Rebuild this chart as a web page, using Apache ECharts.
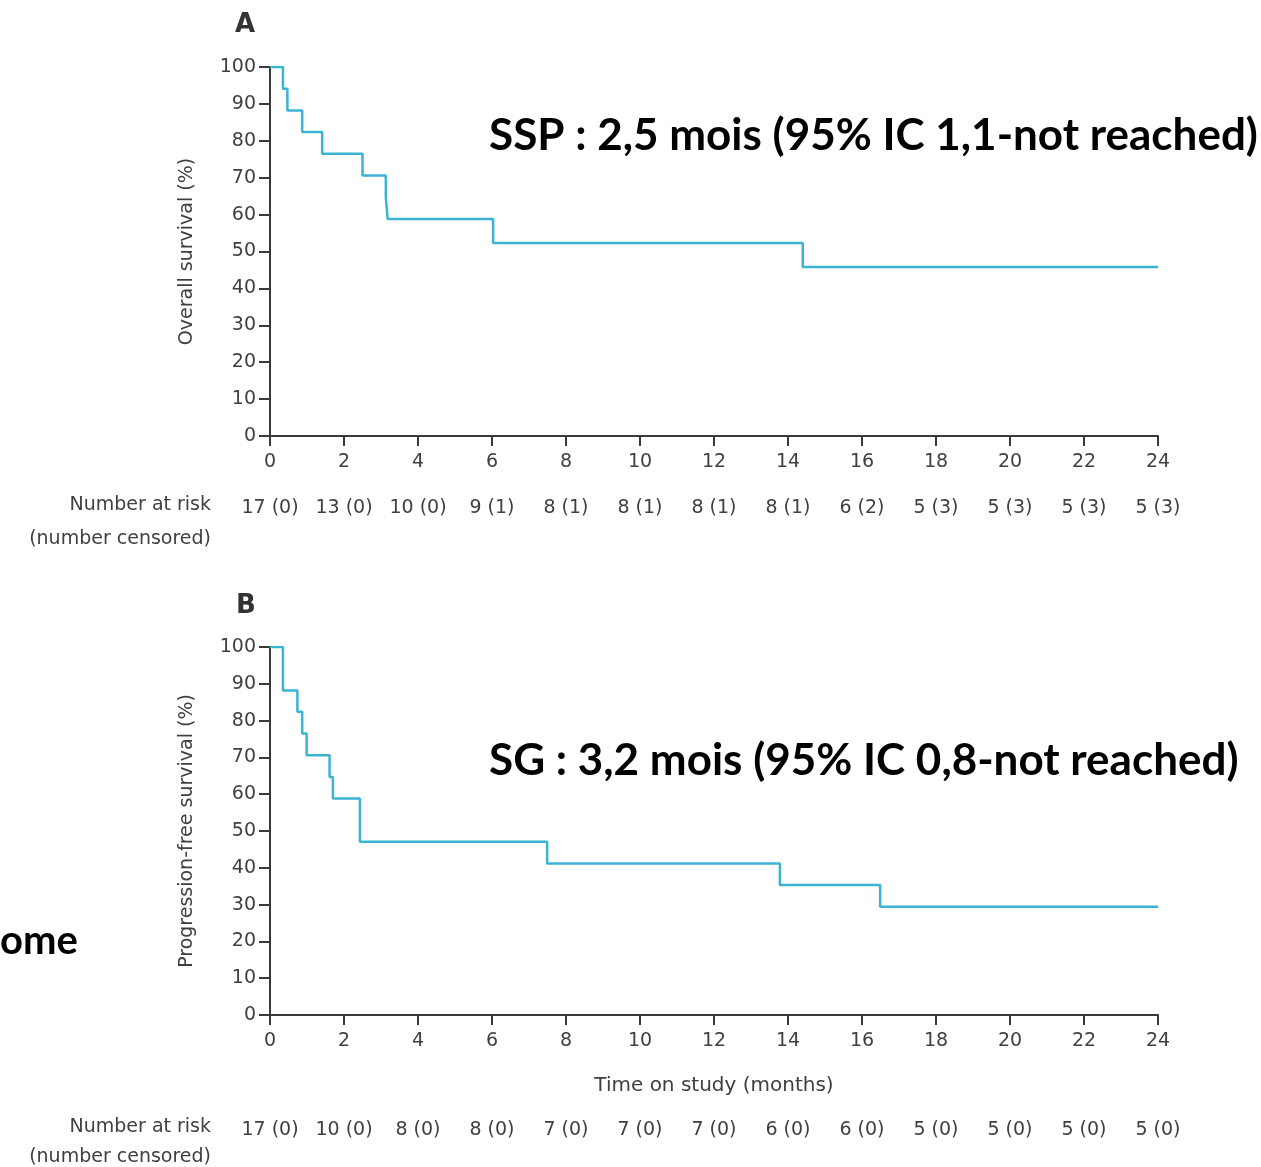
<!DOCTYPE html>
<html>
<head>
<meta charset="utf-8">
<script src="https://cdn.jsdelivr.net/npm/echarts@6/dist/echarts.min.js"></script>
<style>
  html, body { margin: 0; padding: 0; background: #fff; }
  #chart { width: 1261px; height: 1167px; }
</style>
</head>
<body>
<div id="chart"></div>
<script>
// Kaplan–Meier step points: [time in months, survival %]
const osTimes = [0, 0.35, 0.47, 0.87, 1.41, 2.5, 3.13, 3.18, 6.03, 14.4, 24];
const osValues = [100, 94.1, 88.2, 82.4, 76.5, 70.6, 64.7, 58.8, 52.3, 45.8, 45.8];

const pfsTimes = [0, 0.35, 0.74, 0.87, 0.99, 1.61, 1.70, 2.43, 7.49, 13.78, 16.49, 24];
const pfsValues = [100, 88.2, 82.4, 76.5, 70.6, 64.7, 58.8, 47.1, 41.2, 35.3, 29.4, 29.4];

// Number at risk (number censored), every 2 months from 0 to 24
const riskTicks = [0, 2, 4, 6, 8, 10, 12, 14, 16, 18, 20, 22, 24];
const osRisk = ['17 (0)', '13 (0)', '10 (0)', '9 (1)', '8 (1)', '8 (1)', '8 (1)', '8 (1)', '6 (2)', '5 (3)', '5 (3)', '5 (3)', '5 (3)'];
const pfsRisk = ['17 (0)', '10 (0)', '8 (0)', '8 (0)', '7 (0)', '7 (0)', '7 (0)', '6 (0)', '6 (0)', '5 (0)', '5 (0)', '5 (0)', '5 (0)'];

const osTitle = 'SSP : 2,5 mois (95% IC 1,1-not reached)';
const pfsTitle = 'SG : 3,2 mois (95% IC 0,8-not reached)';

const textFont = '"DejaVu Sans", sans-serif';
const textColor = '#404040';
const axisColor = '#3a3a3a';
const curveColor = '#3bb3d3';

const pair = (ts, vs) => ts.map((t, i) => [t, vs[i]]);

function timeAxis(gridIndex) {
  return {
    type: 'value', gridIndex, min: 0, max: 24, interval: 2,
    axisLine: { show: true, onZero: false, lineStyle: { color: axisColor, width: 2 } },
    axisTick: { show: true, length: 10, lineStyle: { color: axisColor, width: 2 } },
    axisLabel: { color: textColor, fontFamily: textFont, fontSize: 19, margin: 17 },
    splitLine: { show: false }
  };
}

function riskAxis(gridIndex, rows, margin) {
  return {
    type: 'value', gridIndex, min: 0, max: 24, interval: 2, position: 'bottom',
    axisLine: { show: false }, axisTick: { show: false }, splitLine: { show: false },
    axisLabel: {
      color: textColor, fontFamily: textFont, fontSize: 19, margin,
      formatter: v => rows[riskTicks.indexOf(v)] || ''
    }
  };
}

function survAxis(gridIndex, name) {
  return {
    type: 'value', gridIndex, min: 0, max: 100, interval: 10,
    name, nameLocation: 'middle', nameGap: 73, nameRotate: 90,
    nameTextStyle: { color: textColor, fontFamily: textFont, fontSize: 19 },
    axisLine: { show: true, lineStyle: { color: axisColor, width: 2 } },
    axisTick: { show: true, length: 11, lineStyle: { color: axisColor, width: 2 } },
    axisLabel: { color: textColor, fontFamily: textFont, fontSize: 19, margin: 14 },
    splitLine: { show: false }
  };
}

const chart = echarts.init(document.getElementById('chart'), null, { renderer: 'canvas' });

const xB = timeAxis(1);
xB.name = 'Time on study (months)';
xB.nameLocation = 'middle';
xB.nameGap = 61;
xB.nameTextStyle = { color: textColor, fontFamily: textFont, fontSize: 20 };

chart.setOption({
  animation: false,
  backgroundColor: '#ffffff',
  grid: [
    { left: 270, top: 67, width: 888, height: 369 },
    { left: 270, top: 647, width: 888, height: 368 }
  ],
  xAxis: [
    timeAxis(0),
    xB,
    riskAxis(0, osRisk, 63),
    riskAxis(1, pfsRisk, 106)
  ],
  yAxis: [
    survAxis(0, 'Overall survival (%)'),
    survAxis(1, 'Progression-free survival (%)')
  ],
  series: [
    {
      type: 'line', xAxisIndex: 0, yAxisIndex: 0, step: 'end', showSymbol: false,
      lineStyle: { color: curveColor, width: 2.5 },
      data: pair(osTimes, osValues)
    },
    {
      type: 'line', xAxisIndex: 1, yAxisIndex: 1, step: 'end', showSymbol: false,
      lineStyle: { color: curveColor, width: 2.5 },
      data: pair(pfsTimes, pfsValues)
    }
  ],
  graphic: [
    { type: 'text', left: 235, top: 12, style: { text: 'A', font: 'bold 26px "DejaVu Sans", sans-serif', fill: '#333' } },
    { type: 'text', left: 236, top: 593, style: { text: 'B', font: 'bold 26px "DejaVu Sans", sans-serif', fill: '#333' } },
    { type: 'text', left: 489, top: 114, style: { text: osTitle, font: 'bold 44px Lato, sans-serif', fill: '#000' } },
    { type: 'text', left: 489, top: 739, style: { text: pfsTitle, font: 'bold 44px Lato, sans-serif', fill: '#000' } },
    { type: 'text', left: 0, top: 921, style: { text: 'ome', font: 'bold 40px Lato, sans-serif', fill: '#000' } },
    { type: 'text', right: 1261 - 211, top: 496, style: { text: 'Number at risk', font: '19px ' + textFont, fill: textColor, align: 'right' } },
    { type: 'text', right: 1261 - 211, top: 530, style: { text: '(number censored)', font: '19px ' + textFont, fill: textColor, align: 'right' } },
    { type: 'text', right: 1261 - 211, top: 1118, style: { text: 'Number at risk', font: '19px ' + textFont, fill: textColor, align: 'right' } },
    { type: 'text', right: 1261 - 211, top: 1148, style: { text: '(number censored)', font: '19px ' + textFont, fill: textColor, align: 'right' } }
  ]
});
</script>
</body>
</html>
